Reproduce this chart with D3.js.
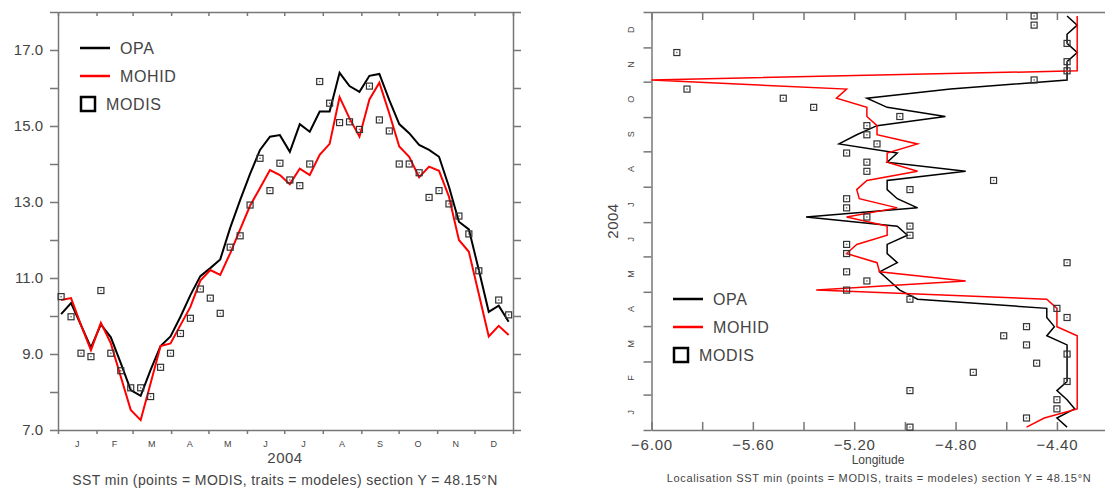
<!DOCTYPE html>
<html>
<head>
<meta charset="utf-8">
<script src="https://cdn.jsdelivr.net/npm/d3@7"></script>
<style>
  body { margin: 0; background: #fff; }
  text { font-family: "Liberation Sans", Arial, sans-serif; fill: #444; }
  .axis path, .axis line { stroke: #777; stroke-width: 1.5; }
</style>
</head>
<body>
<script>
// 8-day composites of 2004
const composites = [
  "2004-01-03","2004-01-11","2004-01-19","2004-01-27","2004-02-04","2004-02-12","2004-02-20","2004-02-28",
  "2004-03-07","2004-03-15","2004-03-23","2004-03-31","2004-04-08","2004-04-16","2004-04-24","2004-05-02",
  "2004-05-10","2004-05-18","2004-05-26","2004-06-03","2004-06-11","2004-06-19","2004-06-27","2004-07-05",
  "2004-07-13","2004-07-21","2004-07-29","2004-08-06","2004-08-14","2004-08-22","2004-08-30","2004-09-07",
  "2004-09-15","2004-09-23","2004-10-01","2004-10-09","2004-10-17","2004-10-25","2004-11-02","2004-11-10",
  "2004-11-18","2004-11-26","2004-12-04","2004-12-12","2004-12-20","2004-12-28"
];

// SST min (left panel)
const opaSST = [10.05,10.34,9.76,9.17,9.78,9.44,8.76,8.05,7.90,8.58,9.21,9.46,9.98,10.55,11.05,11.26,
  11.49,12.32,13.05,13.74,14.37,14.72,14.76,14.32,15.05,14.85,15.38,15.38,16.40,16.05,15.90,16.32,
  16.37,15.68,15.05,14.81,14.50,14.37,14.19,13.40,12.48,12.28,11.21,10.11,10.27,9.85];
const mohidSST = [10.42,10.47,9.76,9.10,9.82,9.28,8.40,7.53,7.26,8.23,9.21,9.28,9.76,10.24,10.93,11.21,
  11.08,11.65,12.28,12.90,13.37,13.84,13.71,13.47,13.88,13.71,14.24,14.53,15.76,15.20,14.72,15.70,
  16.14,15.33,14.46,14.19,13.65,13.93,13.82,13.14,12.00,11.69,10.58,9.46,9.74,9.50];
const modisSST = [10.51,9.98,9.02,8.93,10.67,9.02,8.56,8.11,8.11,7.88,8.65,9.02,9.54,9.94,10.71,10.47,
  10.07,11.81,12.11,12.92,14.15,13.30,14.02,13.58,13.43,14.00,16.17,15.60,15.09,15.11,14.91,16.05,
  15.16,14.87,14.00,14.00,13.77,13.12,13.30,12.95,12.63,12.16,11.19,null,10.42,10.03];

// longitude of SST min (right panel)
const opaLon = [-4.36,-4.40,-4.33,-4.36,-4.40,-4.36,-4.36,-4.36,-4.36,-4.36,-4.44,-4.41,-4.44,-4.44,-4.95,-5.02,
  -5.06,-5.10,-5.03,-5.07,-5.07,-4.99,-5.03,-5.39,-4.95,-5.03,-5.07,-5.07,-4.76,-5.07,-5.03,-5.26,
  -5.19,-5.11,-4.84,-5.07,-5.15,-4.82,-4.36,-4.36,-4.36,-4.32,-4.36,-4.36,-4.32,-4.36];
const mohidLon = [-4.52,-4.45,-4.32,-4.32,-4.32,-4.32,-4.32,-4.32,-4.32,-4.32,-4.32,-4.40,-4.40,-4.40,-4.44,-5.35,
  -4.76,-5.10,-5.11,-5.23,-5.19,-5.07,-5.07,-5.23,-5.03,-5.18,-5.19,-5.15,-4.95,-5.07,-5.07,-4.95,
  -5.11,-5.11,-5.15,-5.15,-5.27,-5.23,-6.00,-4.32,-4.32,-4.32,-4.32,-4.32,-4.32,-4.32];
const modisLon = [-4.98,-4.52,-4.40,-4.40,-4.98,-4.36,-4.73,-4.48,-4.36,-4.52,-4.61,-4.52,-4.36,-4.40,-4.98,-5.23,
  -5.15,-5.23,-4.36,-5.23,-5.23,-4.98,-4.98,-5.15,-5.23,-5.23,-4.98,-4.65,-5.15,-5.15,-5.23,-5.11,
  -5.15,-5.15,-5.02,-5.36,-5.48,-5.86,-4.49,-4.36,-4.36,-5.90,-4.36,null,-4.49,-4.49];

const monthLetters = ["J","F","M","A","M","J","J","A","S","O","N","D"];
const sstTicks = [7,8,9,10,11,12,13,14,15,16,17,18];
const sstLabels = [7,9,11,13,15,17];
const lonTicks = [-6.0,-5.8,-5.6,-5.4,-5.2,-5.0,-4.8,-4.6,-4.4,-4.2];
const lonLabels = [-6.0,-5.6,-5.2,-4.8,-4.4];
const names = ["OPA","MOHID","MODIS"];
const colors = ["#000","#ff0000"];
const year = "2004";
const leftTitle = "SST min (points = MODIS, traits = modeles) section Y = 48.15\u00b0N";
const rightTitle = "Localisation SST min (points = MODIS, traits = modeles) section Y = 48.15\u00b0N";

const w = 1105, h = 490;
const svg = d3.select("body").append("svg").attr("width", w).attr("height", h);

const parseDay = d3.timeParse("%Y-%m-%d");
const dates = composites.map(d => d3.timeHour.offset(parseDay(d), 12));
const yearStart = new Date(2004, 0, 1), yearEnd = new Date(2005, 0, 1);
const months = d3.timeMonths(yearStart, yearEnd);

function styleAxis(g, size) {
  g.attr("class", "axis");
  g.selectAll("text").style("font-size", size + "px");
}

function squares(g, data, px, py, size) {
  const pts = data.map((d, i) => [d, i]).filter(p => p[0] !== null);
  g.selectAll(null).data(pts).enter().append("rect")
    .attr("x", p => px(p) - size / 2).attr("y", p => py(p) - size / 2)
    .attr("width", size).attr("height", size)
    .attr("fill", "none").attr("stroke", "#333").attr("stroke-width", 1.2);
  g.selectAll(null).data(pts).enter().append("rect")
    .attr("x", p => px(p) - 0.7).attr("y", p => py(p) - 0.7)
    .attr("width", 1.4).attr("height", 1.4).attr("fill", "#666");
}

function legend(g, x0, y0, fontSize) {
  //two lines and a square
  colors.forEach((c, i) => {
    g.append("line").attr("x1", x0).attr("x2", x0 + 30)
      .attr("y1", y0 + i * 28).attr("y2", y0 + i * 28)
      .attr("stroke", c).attr("stroke-width", 2.5);
    g.append("text").attr("x", x0 + 40).attr("y", y0 + i * 28)
      .attr("dy", "0.35em").style("font-size", fontSize + "px").style("letter-spacing", "0.6px")
      .text(names[i]);
  });
  g.append("rect").attr("x", x0 + 1).attr("y", y0 + 49).attr("width", 14).attr("height", 14)
    .attr("fill", "none").attr("stroke", "#000").attr("stroke-width", 2.5);
  g.append("text").attr("x", x0 + 26).attr("y", y0 + 56).attr("dy", "0.35em")
    .style("font-size", fontSize + "px").style("letter-spacing", "0.6px").text(names[2]);
}

// ---------- left panel: SST min vs time ----------
const x = d3.scaleTime().domain([yearStart, yearEnd]).range([58, 513]);
const y = d3.scaleLinear().domain([7, 18]).range([430, 12]);
const fmt1 = d3.format(".1f");

svg.append("g").attr("transform", "translate(58,0)")
  .call(d3.axisLeft(y).tickValues(sstTicks).tickSize(8).tickSizeOuter(0).tickPadding(7)
    .tickFormat(d => sstLabels.includes(d) ? fmt1(d) : ""))
  .call(styleAxis, 15);
svg.append("g").attr("transform", "translate(513,0)")
  .call(d3.axisRight(y).tickValues(sstTicks).tickSize(8).tickSizeOuter(0).tickFormat(""))
  .call(styleAxis, 15);
svg.append("g").attr("transform", "translate(0,430)")
  .call(d3.axisBottom(x).ticks(d3.timeMonth.every(1)).tickSize(4).tickSizeOuter(0).tickFormat(""))
  .call(styleAxis, 9);
svg.append("g").attr("transform", "translate(0,12)")
  .call(d3.axisTop(x).ticks(d3.timeMonth.every(1)).tickSize(-4).tickSizeOuter(0).tickFormat(""))
  .call(styleAxis, 9);

svg.selectAll(".mlab").data(months).enter().append("text")
  .attr("x", d => (x(d) + x(d3.timeMonth.offset(d, 1))) / 2)
  .attr("y", 444).attr("dy", "0.35em").attr("text-anchor", "middle")
  .style("font-size", "9px").text((d, i) => monthLetters[i]);

svg.append("text").attr("x", 285).attr("y", 458).attr("dy", "0.35em").attr("text-anchor", "middle")
  .style("font-size", "15px").style("letter-spacing", "0.5px").text(year);
svg.append("text").attr("x", 285).attr("y", 480).attr("dy", "0.35em").attr("text-anchor", "middle")
  .style("font-size", "14px").style("letter-spacing", "0.4px").text(leftTitle);

const lineL = d3.line().x((d, i) => x(dates[i])).y(d => y(d));
[opaSST, mohidSST].forEach((s, k) => {
  svg.append("path").datum(s).attr("d", lineL)
    .attr("fill", "none").attr("stroke", colors[k]).attr("stroke-width", 2);
});
squares(svg.append("g"), modisSST, p => x(dates[p[1]]), p => y(p[0]), 6);
legend(svg.append("g"), 80, 48, 16);

// ---------- right panel: longitude of SST min ----------
const xr = d3.scaleLinear().domain([-6, -4.2]).range([651.5, 1107.6]);
const yr = d3.scaleTime().domain([yearStart, yearEnd]).range([430, 12]);
const fmt2 = d3.format(".2f");
const isLab = d => lonLabels.some(v => Math.abs(v - d) < 1e-6);

svg.append("g").attr("transform", "translate(651.5,0)")
  .call(d3.axisLeft(yr).ticks(d3.timeMonth.every(1)).tickSize(8).tickSizeOuter(0).tickFormat(""))
  .call(styleAxis, 9);
svg.append("g").attr("transform", "translate(1107.6,0)")
  .call(d3.axisRight(yr).ticks(d3.timeMonth.every(1)).tickSize(8).tickSizeOuter(0).tickFormat(""))
  .call(styleAxis, 9);
svg.append("g").attr("transform", "translate(0,430)")
  .call(d3.axisBottom(xr).tickValues(lonTicks).tickSize(-8).tickSizeOuter(0).tickPadding(9)
    .tickFormat(d => isLab(d) ? fmt2(d).replace("-", "\u2212") : ""))
  .call(styleAxis, 15)
  .selectAll("text").style("letter-spacing", "0.8px");
svg.append("g").attr("transform", "translate(0,12)")
  .call(d3.axisTop(xr).tickValues(lonTicks).tickSize(-8).tickSizeOuter(0).tickFormat(""))
  .call(styleAxis, 9);

svg.selectAll(".rlab").data(months).enter().append("text")
  .attr("transform", d => "translate(631," + (yr(d) + yr(d3.timeMonth.offset(d, 1))) / 2 + ") rotate(-90)")
  .attr("dy", "0.35em").attr("text-anchor", "middle")
  .style("font-size", "9px").text((d, i) => monthLetters[i]);

svg.append("text").attr("transform", "translate(613,221) rotate(-90)")
  .attr("dy", "0.35em").attr("text-anchor", "middle").style("font-size", "15px")
  .style("letter-spacing", "0.5px").text(year);
svg.append("text").attr("x", 878).attr("y", 460).attr("dy", "0.35em").attr("text-anchor", "middle")
  .style("font-size", "12px").text("Longitude");
svg.append("text").attr("x", 879).attr("y", 478).attr("dy", "0.35em").attr("text-anchor", "middle")
  .style("font-size", "11px").style("letter-spacing", "0.65px").text(rightTitle);

const lineR = d3.line().x(d => xr(d)).y((d, i) => yr(dates[i]));
[opaLon, mohidLon].forEach((s, k) => {
  svg.append("path").datum(s).attr("d", lineR)
    .attr("fill", "none").attr("stroke", colors[k]).attr("stroke-width", 1.5);
});
squares(svg.append("g"), modisLon, p => xr(p[0]), p => yr(dates[p[1]]), 6);
legend(svg.append("g"), 673, 299, 16);
</script>
</body>
</html>
